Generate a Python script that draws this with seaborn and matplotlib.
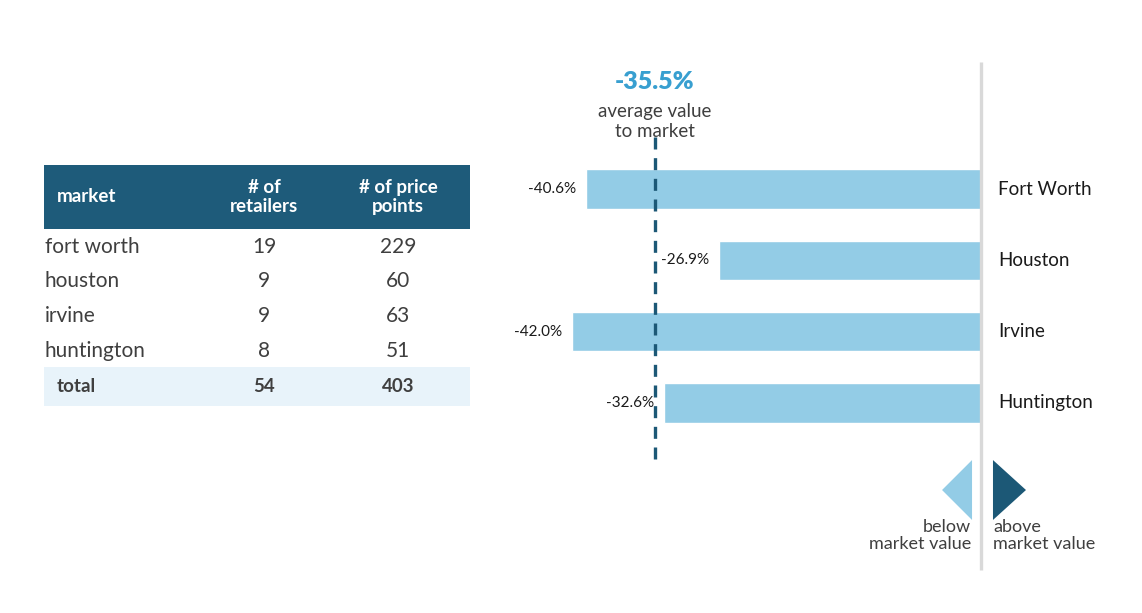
import matplotlib
matplotlib.use("Agg")
import matplotlib.pyplot as plt
from matplotlib.patches import Rectangle
import seaborn as sns
import pandas as pd

# ---- data ----
markets = ["fort worth", "houston", "irvine", "huntington"]
retailers = [19, 9, 9, 8]
price_points = [229, 60, 63, 51]
total_retailers = 54
total_price_points = 403

region_labels = ["Fort Worth", "Houston", "Irvine", "Huntington"]
value_to_market = [-40.6, -26.9, -42.0, -32.6]
avg_value = -35.5
avg_line_at = -33.5  # where the reference draws the dashed average line

# ---- colours ----
bar_blue = "#93cce6"
dark_teal = "#1c5876"
header_teal = "#1e5b7a"
total_bg = "#e8f3fa"
avg_blue = "#389fd0"
grey_text = "#3f3f3f"

sns.set_theme(style="white")
plt.rcParams["font.family"] = ["Lato", "DejaVu Sans"]

W, H = 1142, 613
fig = plt.figure(figsize=(W / 100, H / 100), dpi=100)

# ---------------- table (left) ----------------
tx0, tx1, ty0, ty1 = 40, 480, 150, 420
tab = fig.add_axes([tx0 / W, 1 - ty1 / H, (tx1 - tx0) / W, (ty1 - ty0) / H])
tab.set_xlim(tx0, tx1)
tab.set_ylim(ty1, ty0)
tab.axis("off")

tab.add_patch(Rectangle((44, 165), 426, 64, color=header_teal, lw=0))
tab.text(57, 197, "market", color="white", fontsize=13.5, fontweight="bold", va="center")
tab.text(264, 197, "# of\nretailers", color="white", fontsize=13.5, fontweight="bold",
         va="center", ha="center", linespacing=1.2)
tab.text(398, 197, "# of price\npoints", color="white", fontsize=13.5, fontweight="bold",
         va="center", ha="center", linespacing=1.2)

row_y = [247, 281, 316, 351]
for m, r, p, y in zip(markets, retailers, price_points, row_y):
    tab.text(45, y, m, fontsize=15, color=grey_text, va="center")
    tab.text(264, y, str(r), fontsize=15, color=grey_text, va="center", ha="center")
    tab.text(398, y, str(p), fontsize=15, color=grey_text, va="center", ha="center")

tab.add_patch(Rectangle((44, 367), 426, 39, color=total_bg, lw=0))
tab.text(57, 387, "total", fontsize=13.5, fontweight="bold", color=grey_text, va="center")
tab.text(264, 387, str(total_retailers), fontsize=13.5, fontweight="bold", color=grey_text,
         va="center", ha="center")
tab.text(398, 387, str(total_price_points), fontsize=13.5, fontweight="bold", color=grey_text,
         va="center", ha="center")

# ---------------- bar chart (right) ----------------
ax0, ax1, ay0, ay1 = 500, 1130, 40, 590
ax = fig.add_axes([ax0 / W, 1 - ay1 / H, (ax1 - ax0) / W, (ay1 - ay0) / H])

df = pd.DataFrame({"region": region_labels, "value": value_to_market})
sns.barplot(data=df, x="value", y="region", orient="h", color=bar_blue,
            width=0.55, errorbar=None, saturation=1, ax=ax)

px_per_unit = 409 / 42.0
zero_px = 981
ax.set_xlim((ax0 - zero_px) / px_per_unit, (ax1 - zero_px) / px_per_unit)
row_px = 71.33
first_px = 189
ax.set_ylim((ay1 - first_px) / row_px, (ay0 - first_px) / row_px)
ax.axis("off")

# value labels and region names
for i, v in enumerate(value_to_market):
    ax.text(v - 1.0, i, f"{v:.1f}%", ha="right", va="center", fontsize=11, color="#1a1a1a")
    ax.text(1.75, i, region_labels[i], ha="left", va="center", fontsize=13.5, color="#1a1a1a")

# zero line
ax.plot([0, 0], [-1.78, 5.34], color="#d9d9d9", lw=2.4, solid_capstyle="butt", zorder=1)

# average dashed line
ax.plot([avg_line_at, avg_line_at], [-0.73, 3.87], color=dark_teal, lw=2.4,
        dashes=(3.6, 2.6), zorder=3)
ax.text(avg_line_at, -1.50, f"{avg_value:.1f}%", ha="center", va="center",
        fontsize=18, fontweight="heavy", color=avg_blue)
ax.text(avg_line_at, -0.95, "average value\nto market", ha="center", va="center",
        fontsize=13.5, color=grey_text, linespacing=1.2)

# direction arrows
ax.fill([-0.92, -0.92, -4.0], [3.80, 4.64, 4.22], color=bar_blue, lw=0)
ax.fill([1.23, 1.23, 4.62], [3.80, 4.64, 4.22], color=dark_teal, lw=0)
ax.text(-1.0, 4.86, "below\nmarket value", ha="right", va="center", fontsize=13,
        color=grey_text, linespacing=1.05)
ax.text(1.25, 4.86, "above\nmarket value", ha="left", va="center", fontsize=13,
        color=grey_text, linespacing=1.05)

fig.savefig("out.png", dpi=100, facecolor="white")
